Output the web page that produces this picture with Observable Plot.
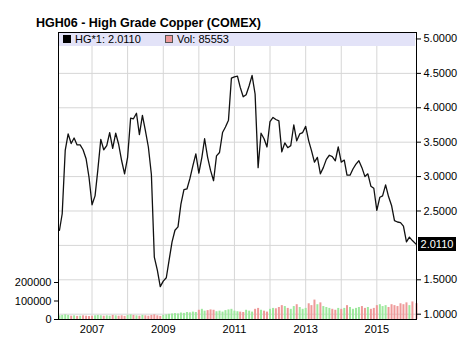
<!DOCTYPE html>
<html><head><meta charset="utf-8">
<script src="https://cdn.jsdelivr.net/npm/d3@7"></script>
<script src="https://cdn.jsdelivr.net/npm/@observablehq/plot@0.6"></script>
<style>
body{margin:0;background:#fff;font-family:Arial,"Liberation Sans",sans-serif;}
#wrap{position:relative;width:469px;height:341px;overflow:hidden;background:#fff;}
#title{position:absolute;left:36px;top:16px;font-weight:bold;font-size:12.5px;color:#000;white-space:nowrap;}
#legend{position:absolute;left:59px;top:33px;width:356px;height:13px;background:#e3e3f8;font-size:11px;color:#000;}
.item{position:absolute;top:0px;line-height:13px;white-space:nowrap;}
.sw{display:inline-block;width:8px;height:8px;margin-right:4px;vertical-align:-0px;box-sizing:border-box;}
#last{position:absolute;left:418px;width:38px;height:14px;line-height:14px;background:#000;color:#fff;font-size:11px;text-align:center;}
svg{position:absolute;left:0;top:0;}
</style></head>
<body>
<div id="wrap">
  <div id="title">HGH06 - High Grade Copper (COMEX)</div>
</div>
<script>
// Monthly closes, Feb 2006 .. Feb 2016
const startMonth = "2006-02-01";
const lastQuoteDate = "2016-02-12";
const prices = [
  /*2006*/ 2.22, 2.46, 3.38, 3.62, 3.48, 3.56, 3.46, 3.46, 3.39, 3.26, 2.99,
  /*2007*/ 2.59, 2.72, 3.09, 3.54, 3.39, 3.45, 3.64, 3.41, 3.63, 3.47, 3.23, 3.04,
  /*2008*/ 3.28, 3.85, 3.84, 3.92, 3.61, 3.89, 3.67, 3.43, 3.03, 1.83, 1.64, 1.40,
  /*2009*/ 1.48, 1.53, 1.78, 2.05, 2.22, 2.27, 2.60, 2.81, 2.82, 2.97, 3.16, 3.33,
  /*2010*/ 3.05, 3.28, 3.55, 3.28, 3.09, 2.94, 3.30, 3.35, 3.64, 3.72, 3.82, 4.43,
  /*2011*/ 4.45, 4.46, 4.30, 4.16, 4.19, 4.32, 4.47, 4.20, 3.13, 3.63, 3.55, 3.43,
  /*2012*/ 3.80, 3.86, 3.83, 3.81, 3.36, 3.49, 3.42, 3.45, 3.75, 3.52, 3.62, 3.64,
  /*2013*/ 3.73, 3.52, 3.38, 3.21, 3.28, 3.04, 3.13, 3.25, 3.31, 3.29, 3.23, 3.43,
  /*2014*/ 3.21, 3.24, 3.02, 3.02, 3.11, 3.18, 3.23, 3.13, 3.00, 3.04, 2.86, 2.83,
  /*2015*/ 2.51, 2.70, 2.72, 2.88, 2.71, 2.58, 2.36, 2.34, 2.33, 2.28, 2.05, 2.12,
  /*2016*/ 2.07, 2.011
];
const volumes = [
  /*2006*/ 20000, 22000, 25000, 22000, 18000, 20000, 17000, 18000, 20000, 18000, 16000,
  /*2007*/ 18000, 20000, 22000, 20000, 18000, 20000, 18000, 22000, 20000, 18000, 20000, 17000,
  /*2008*/ 22000, 25000, 22000, 20000, 18000, 22000, 20000, 18000, 22000, 25000, 20000, 17000,
  /*2009*/ 22000, 25000, 28000, 30000, 32000, 30000, 35000, 33000, 38000, 36000, 40000, 38000,
  /*2010*/ 50000, 55000, 45000, 48000, 52000, 50000, 42000, 45000, 40000, 48000, 52000, 55000,
  /*2011*/ 45000, 42000, 40000, 38000, 50000, 45000, 40000, 55000, 60000, 50000, 45000, 40000,
  /*2012*/ 55000, 60000, 58000, 65000, 75000, 70000, 60000, 55000, 70000, 80000, 65000, 55000,
  /*2013*/ 60000, 85000, 75000, 105000, 80000, 90000, 70000, 65000, 60000, 55000, 50000, 60000,
  /*2014*/ 55000, 60000, 75000, 65000, 55000, 60000, 65000, 70000, 60000, 65000, 55000, 60000,
  /*2015*/ 75000, 80000, 70000, 75000, 65000, 80000, 75000, 70000, 85000, 80000, 90000, 75000,
  /*2016*/ 95000, 85553
];
const priceTicks = [1.0, 1.5, 2.0, 2.5, 3.0, 3.5, 4.0, 4.5, 5.0];
const priceLabelTicks = [1.0, 1.5, 2.5, 3.0, 3.5, 4.0, 4.5, 5.0]; // 2.0000 is hidden under the last-price box
const volTicks = [0, 100000, 200000];
const gridYears = [2007, 2008, 2009, 2010, 2011, 2012, 2013, 2014, 2015];
const labelYears = [2007, 2009, 2011, 2013, 2015];
const legendPrice = "HG*1: 2.0110";
const legendVol = "Vol: 85553";
const lastLabel = "2.0110";

const yMin = 0.923, yMax = 5.094;
const volPerUnit = 372000; // volume units per price unit on the shared vertical axis
const vToY = v => yMin + v / volPerUnit;

const months = d3.utcMonth.range(new Date(startMonth), new Date("2016-02-02"));
const dates = months.map((d, i) => i === months.length - 1 ? new Date(lastQuoteDate) : d);
const priceData = prices.map((p, i) => ({date: dates[i], p}));
const volData = volumes.map((v, i) => ({date: dates[i], v: vToY(v), up: i === 0 ? true : prices[i] >= prices[i - 1]}));

const chart = Plot.plot({
  width: 469, height: 341,
  marginTop: 32, marginBottom: 22, marginLeft: 58, marginRight: 53,
  style: {fontFamily: "Arial, 'Liberation Sans', sans-serif", fontSize: "11px", color: "#000", background: "transparent", overflow: "visible"},
  x: {type: "utc", domain: [new Date("2006-01-22"), new Date("2016-02-12")]},
  y: {domain: [yMin, yMax]},
  marks: [
    Plot.ruleY(priceTicks, {stroke: "#d6d6d6", strokeWidth: 1}),
    Plot.ruleX(gridYears.map(y => new Date(Date.UTC(y, 0, 1))), {stroke: "#d6d6d6", strokeWidth: 1}),
    Plot.ruleX(volData.filter(d => d.up), {x: "date", y1: yMin, y2: "v", stroke: "#9de89d", strokeWidth: 2}),
    Plot.ruleX(volData.filter(d => !d.up), {x: "date", y1: yMin, y2: "v", stroke: "#ee9999", strokeWidth: 2}),
    Plot.line(priceData, {x: "date", y: "p", stroke: "#111", strokeWidth: 1.3}),
    Plot.axisY({anchor: "right", ticks: priceLabelTicks, tickFormat: d3.format(".4f"), tickSize: 4, tickPadding: 3, label: null}),
    Plot.axisY({anchor: "left", ticks: volTicks.map(vToY), tickFormat: t => String(Math.round((t - yMin) * volPerUnit / 100000) * 100000), tickSize: 4, tickPadding: 3, label: null}),
    Plot.axisX({ticks: labelYears.map(y => new Date(Date.UTC(y, 0, 1))), tickFormat: d3.utcFormat("%Y"), tickSize: 0, tickPadding: 6, label: null}),
    Plot.frame({stroke: "#000"})
  ]
});
const wrap = document.getElementById("wrap");
wrap.insertBefore(chart, wrap.firstChild);

const legend = document.createElement("div");
legend.id = "legend";
legend.innerHTML = `<div class="item" style="left:4px"><span class="sw" style="background:#000"></span>${legendPrice}</div>` +
  `<div class="item" style="left:106px"><span class="sw" style="background:#ee9999;border:1px solid #555"></span>${legendVol}</div>`;
wrap.appendChild(legend);

const last = document.createElement("div");
last.id = "last";
last.textContent = lastLabel;
last.style.top = (chart.scale("y").apply(prices[prices.length - 1]) - 7) + "px";
wrap.appendChild(last);
</script>
</body></html>
